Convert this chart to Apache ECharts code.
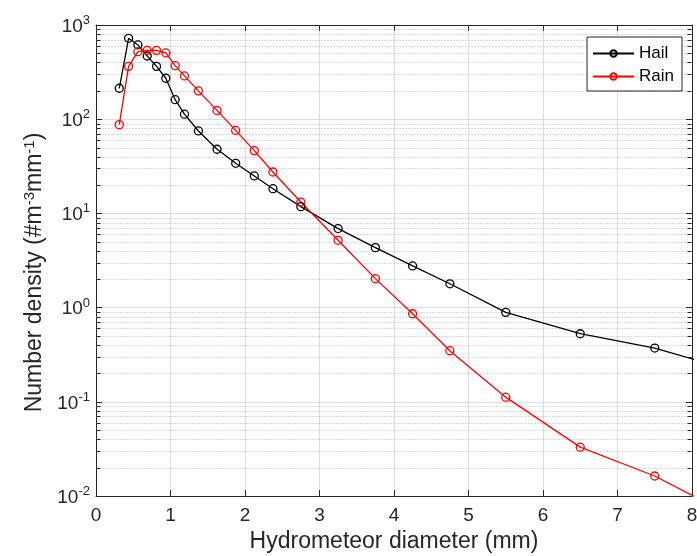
<!DOCTYPE html>
<html>
<head>
<meta charset="utf-8">
<script src="https://cdn.jsdelivr.net/npm/echarts@6/dist/echarts.min.js"></script>
<style>
html,body{margin:0;padding:0;background:#fff;}
#chart{width:697px;height:556px;}
</style>
</head>
<body>
<div id="chart"></div>
<script>
// Bin centres (mm)
const diameters = [0.3125, 0.4375, 0.5625, 0.6875, 0.8125, 0.9375, 1.0625, 1.1875, 1.375, 1.625, 1.875, 2.125, 2.375, 2.75, 3.25, 3.75, 4.25, 4.75, 5.5, 6.5, 7.5, 8.5];
// Number density (#m^-3 mm^-1)
const hail = [213, 722, 614, 469, 364, 272, 161, 113, 75, 48, 34, 25, 18.3, 11.8, 6.9, 4.33, 2.77, 1.79, 0.89, 0.528, 0.372, 0.22];
const rain = [87.5, 364, 521, 538, 538, 505, 370, 288, 200, 124, 76, 46.4, 27.5, 13.2, 5.18, 2.03, 0.86, 0.349, 0.112, 0.033, 0.0163, 0.0064];
const seriesNames = ['Hail', 'Rain'];
const seriesColors = ['#000000', '#ff0000'];
const xMin = 0, xMax = 8, xInterval = 1;
const yMin = 0.01, yMax = 1000;
const minorGridValues = [];
for (let e = -2; e <= 2; e++) {
  for (let m = 2; m <= 9; m++) minorGridValues.push(+(m * Math.pow(10, e)).toPrecision(3));
}

const textColor = '#262626';
const fontFamily = '"Liberation Sans", Arial, Helvetica, sans-serif';

const pairs = (xs, ys) => xs.map((x, i) => [x, ys[i]]);

const chart = echarts.init(document.getElementById('chart'), null, {renderer: 'canvas'});

const supRich = {
  b: {fontSize: 19, fontFamily: fontFamily, color: textColor, verticalAlign: 'bottom'},
  s: {fontSize: 13, fontFamily: fontFamily, color: textColor, verticalAlign: 'bottom', padding: [0, 0, 9, 0]}
};

function lineSeries(i, values) {
  return {
    name: seriesNames[i], type: 'line', z: 3,
    data: pairs(diameters, values),
    symbol: 'circle', symbolSize: 8,
    lineStyle: {color: seriesColors[i], width: 1.3},
    itemStyle: {color: 'rgba(255,255,255,0)', borderColor: seriesColors[i], borderWidth: 1.3},
    emphasis: {disabled: true}
  };
}

const option = {
  animation: false,
  backgroundColor: '#ffffff',
  textStyle: {fontFamily: fontFamily, color: textColor},
  grid: {left: 96, right: 5, top: 25, bottom: 60, containLabel: false, outerBoundsMode: 'none'},
  legend: {
    orient: 'vertical',
    right: 15,
    top: 37,
    data: seriesNames,
    backgroundColor: '#ffffff',
    borderColor: textColor,
    borderWidth: 1,
    borderRadius: 0,
    padding: [8, 8, 6, 5],
    itemWidth: 41,
    itemHeight: 8,
    itemGap: 6,
    textStyle: {fontSize: 17, color: '#000', fontFamily: fontFamily}
  },
  xAxis: [{
    type: 'value', min: xMin, max: xMax, interval: xInterval,
    name: 'Hydrometeor diameter (mm)', nameLocation: 'middle', nameGap: 34,
    nameTextStyle: {fontSize: 23, color: textColor, fontFamily: fontFamily},
    axisLine: {show: true, onZero: false, lineStyle: {color: textColor, width: 1}},
    axisTick: {show: true, inside: true, length: 6, lineStyle: {color: textColor}},
    axisLabel: {fontSize: 19, color: textColor, margin: 10, fontFamily: fontFamily},
    splitLine: {show: true, lineStyle: {color: '#dcdcdc', width: 1}}
  }, {
    type: 'value', min: xMin, max: xMax, interval: xInterval, position: 'top',
    axisLine: {show: true, onZero: false, lineStyle: {color: textColor, width: 1}},
    axisTick: {show: true, inside: true, length: 6, lineStyle: {color: textColor}},
    axisLabel: {show: false},
    splitLine: {show: false}
  }],
  yAxis: [{
    type: 'log', logBase: 10, min: yMin, max: yMax,
    name: 'Number density (#m{s|-3}mm{s|-1})', nameLocation: 'middle', nameGap: 46, nameRotate: 90,
    nameTextStyle: {fontSize: 23, color: textColor, fontFamily: fontFamily, padding: [0, 24, 0, 0],
      rich: {s: {fontSize: 15, fontFamily: fontFamily, color: textColor, verticalAlign: 'bottom', padding: [0, 0, 11, 0]}}},
    axisLine: {show: true, onZero: false, lineStyle: {color: textColor, width: 1}},
    axisTick: {show: true, inside: true, length: 6, lineStyle: {color: textColor}},
    axisLabel: {
      margin: 6, rich: supRich,
      formatter: function (v) { const e = Math.round(Math.log10(v)); return '{b|10}{s|' + e + '}'; }
    },
    splitLine: {show: true, lineStyle: {color: '#dcdcdc', width: 1}}
  }, {
    type: 'log', logBase: 10, min: yMin, max: yMax, position: 'right',
    axisLine: {show: true, onZero: false, lineStyle: {color: textColor, width: 1}},
    axisTick: {show: true, inside: true, length: 6, lineStyle: {color: textColor}},
    axisLabel: {show: false},
    splitLine: {show: false}
  }],
  series: [{
    type: 'custom',
    name: 'minorGrid',
    silent: true,
    z: 1,
    clip: false,
    data: minorGridValues.map(v => [xMin, v]),
    renderItem: function (params, api) {
      const v = api.value(1);
      const p0 = api.coord([xMin, v]);
      const p1 = api.coord([xMax, v]);
      const y = Math.round(p0[1]) + 0.5;
      const xl = Math.round(p0[0]) + 0.5, xr = Math.round(p1[0]) - 0.5;
      return {
        type: 'group',
        children: [
          {type: 'line', shape: {x1: xl, y1: y, x2: xr, y2: y}, style: {stroke: '#b4b4b4', lineWidth: 1, lineDash: [1, 2]}},
          {type: 'line', shape: {x1: xl, y1: y, x2: xl + 4, y2: y}, style: {stroke: textColor, lineWidth: 1}},
          {type: 'line', shape: {x1: xr - 4, y1: y, x2: xr, y2: y}, style: {stroke: textColor, lineWidth: 1}}
        ]
      };
    }
  }, lineSeries(0, hail), lineSeries(1, rain)]
};
chart.setOption(option);
</script>
</body>
</html>
